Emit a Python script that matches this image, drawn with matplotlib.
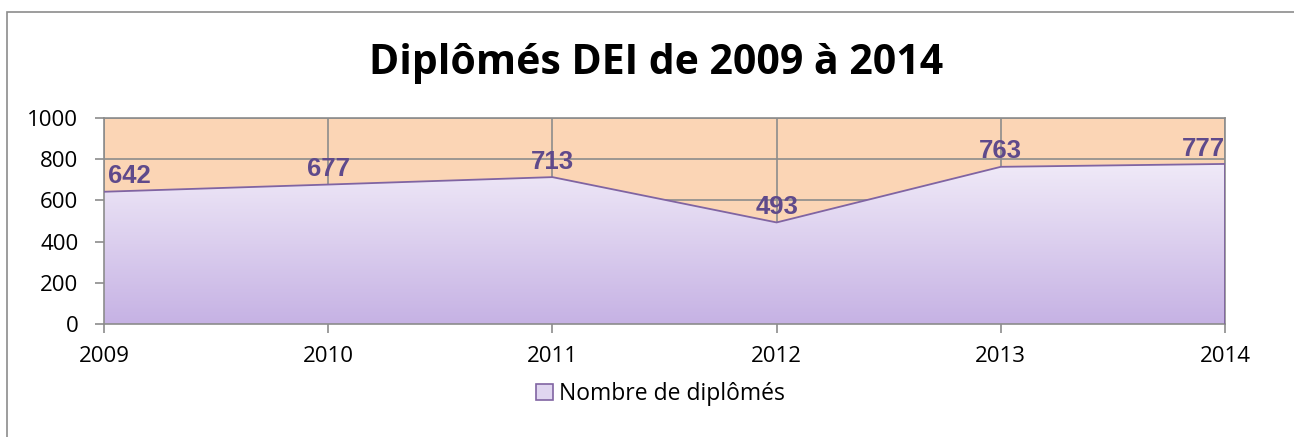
import numpy as np
import matplotlib.pyplot as plt
from matplotlib.patches import Rectangle, Patch
from matplotlib.colors import LinearSegmentedColormap

years = [2009, 2010, 2011, 2012, 2013, 2014]
diplomes = [642, 677, 713, 493, 763, 777]
title = "Diplômés DEI de 2009 à 2014"
serie = "Nombre de diplômés"

plt.rcParams['font.family'] = ['Open Sans', 'DejaVu Sans']

fig = plt.figure(figsize=(12.94, 4.37), dpi=100)
W, H = 1294, 437
ax = fig.add_axes([104 / W, 1 - 324 / H, (1225 - 104) / W, (324 - 118) / H])

# outer chart border (only left and top visible)
fig.patches.append(Rectangle((7 / W, -0.05), 1.1, 1 - 12 / H + 0.05,
                             transform=fig.transFigure, fill=False,
                             edgecolor='#8c8c8c', linewidth=1.2))

ax.set_facecolor('#fbd5b5')
ax.set_xlim(years[0], years[-1])
ax.set_ylim(0, 1000)

# area with vertical gradient
poly = ax.fill_between(years, diplomes, 0, facecolor='none', edgecolor='none')
cmap = LinearSegmentedColormap.from_list('lav', ['#c6b2e4', '#f0eaf8'])
grad = np.linspace(0, 1, 256).reshape(-1, 1)
im = ax.imshow(grad, cmap=cmap, aspect='auto', origin='lower',
               extent=[years[0], years[-1], 0, max(diplomes)], zorder=2)
im.set_clip_path(poly.get_paths()[0], transform=ax.transData)
ax.plot(years, diplomes, color='#8064a2', linewidth=1.3, zorder=3)
ax.plot([years[-1], years[-1]], [0, diplomes[-1]], color='#8064a2', linewidth=1.3, zorder=3)

ax.set_yticks(range(0, 1001, 200))
ax.set_xticks(years)
ax.grid(True, color='#8c8c8c', linewidth=1.2, zorder=1)
ax.set_axisbelow(True)
for s in ax.spines.values():
    s.set_color('#8c8c8c')
    s.set_linewidth(1.2)
ax.tick_params(axis='both', colors='#8c8c8c', length=6.5, width=1.2,
               labelcolor='black', labelsize=16)
ax.tick_params(axis='x', pad=9)
ax.tick_params(axis='y', pad=12)

for i, (x, y) in enumerate(zip(years, diplomes)):
    ha = 'center'
    dx = 0
    if i == 0:
        ha, dx = 'left', 3
    elif i == len(years) - 1:
        ha, dx = 'right', 0
    ax.annotate(str(y), (x, y), xytext=(dx, 6), textcoords='offset points',
                ha=ha, va='baseline', fontsize=18.5, fontweight='bold',
                color='#5f4a8b', family='Liberation Sans', zorder=4)

fig.text(656 / W, 1 - 63 / H, title, ha='center', va='center',
         fontsize=29.5, fontweight='bold')

leg = fig.legend(handles=[Patch(facecolor='#e0d6f0', edgecolor='#8064a2', linewidth=1.2, label=serie)],
                 loc='center', bbox_to_anchor=(660 / W, 1 - 394 / H), frameon=False,
                 fontsize=16.5, handlelength=0.75, handleheight=0.75, handletextpad=0.25)

fig.savefig('out.png', dpi=100)
